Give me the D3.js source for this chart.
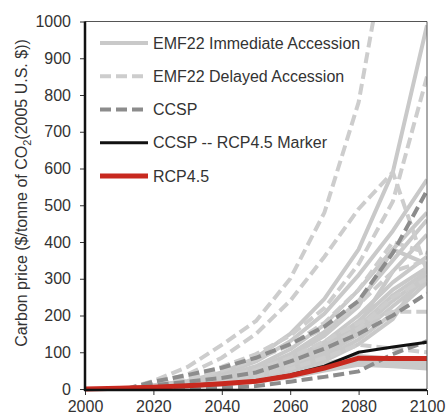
<!DOCTYPE html>
<html>
<head>
<meta charset="utf-8">
<script src="https://cdn.jsdelivr.net/npm/d3@7"></script>
<style>
  html, body { margin: 0; padding: 0; background: #fff; }
  svg { display: block; font-family: "Liberation Sans", Arial, Helvetica, sans-serif; }
</style>
</head>
<body>
<svg id="chart" width="446" height="414"></svg>
<script>
// ---------------- DATA ----------------
const emfYears = [2012, 2020, 2030, 2040, 2050, 2060, 2070, 2080, 2090, 2100];
const fullYears = [2000, 2010, 2020, 2030, 2040, 2050, 2060, 2070, 2080, 2090, 2100];

// EMF22 Immediate Accession (solid light grey)
const emfImmediate = [
  [0, 10, 22, 45, 85, 150, 245, 380, 590, 990],
  [0, 9, 20, 40, 75, 130, 205, 310, 430, 570],
  [0, 8, 18, 35, 62, 108, 175, 270, 380, 480],
  [0, 7, 16, 31, 55, 95, 155, 240, 350, 460],
  [0, 7, 15, 29, 52, 88, 145, 225, 380, 340],
  [0, 6, 14, 27, 47, 80, 128, 200, 290, 360],
  [0, 6, 13, 25, 43, 72, 118, 185, 270, 330],
  [0, 5, 12, 23, 40, 66, 108, 170, 255, 320],
  [0, 5, 11, 21, 36, 60, 100, 160, 240, 310],
  [0, 5, 11, 20, 34, 56, 92, 148, 225, 300],
  [0, 4, 10, 18, 31, 51, 84, 135, 205, 290],
  [0, 4, 9, 17, 28, 47, 76, 122, 190, 330],
  [0, 5, 12, 22, 38, 63, 105, 175, 320, 420],
  [0, 4, 9, 17, 28, 45, 68, 90, 82, 75],
  [0, 3, 8, 15, 25, 40, 60, 80, 75, 70],
  [0, 3, 7, 13, 22, 36, 55, 72, 68, 62],
  [0, 3, 6, 12, 20, 32, 50, 66, 62, 56]
];

// EMF22 Delayed Accession (dashed light grey)
const emfDelayed = [
  [0, 22, 60, 120, 185, 300, 480, 780, 1300, 1300],
  [0, 15, 40, 85, 150, 240, 360, 490, 590, 320],
  [0, 12, 30, 60, 95, 145, 220, 340, 510, 850],
  [0, 8, 18, 32, 52, 85, 130, 180, 210, 210],
  [0, 10, 25, 50, 80, 120, 180, 270, 400, 370],
  [0, 5, 12, 22, 35, 55, 85, 120, 110, 100],
  [0, 12, 28, 55, 85, 120, 165, 230, 320, 350],
  [0, 6, 14, 26, 42, 68, 108, 165, 250, 300]
];

// CCSP (dashed darker grey)
const ccsp = [
  [0, 20, 38, 58, 85, 122, 170, 240, 370, 540],
  [0, 10, 20, 30, 45, 75, 110, 150, 200, 260],
  [0, 1, 2, 3, 8, 20, 33, 48, 95, 130]
];

// CCSP -- RCP4.5 Marker (black)
const ccspMarker = [0, 2, 5, 10, 15, 22, 38, 62, 100, 114, 127];
// RCP4.5 (red)
const rcp45 = [0, 2, 5, 9, 14, 21, 36, 57, 84, 83, 83];

const xTicks = [2000, 2020, 2040, 2060, 2080, 2100];
const yTicks = [0, 100, 200, 300, 400, 500, 600, 700, 800, 900, 1000];
const legendLabels = ["EMF22 Immediate Accession", "EMF22 Delayed Accession", "CCSP", "CCSP -- RCP4.5 Marker", "RCP4.5"];

// ---------------- CHART ----------------
const svg = d3.select("#chart");
const pLeft = 85, pRight = 427, pTop = 21.5, pBottom = 389;

const x = d3.scaleLinear().domain([2000, 2100]).range([pLeft, pRight]);
const y = d3.scaleLinear().domain([0, 1000]).range([pBottom, pTop]);

const lightGrey = "#c9c9c9";
const darkGrey = "#8c8c8c";
const redCol = "#c8291f";
const textCol = "#333";

svg.append("clipPath").attr("id", "plotclip")
  .append("rect").attr("x", pLeft).attr("y", pTop).attr("width", pRight - pLeft).attr("height", pBottom - pTop + 3);

const plot = svg.append("g").attr("clip-path", "url(#plotclip)");

const lineFor = (years) => d3.line()
  .x((d, i) => x(years[i]))
  .y(d => y(d));

// top and right border
svg.append("line").attr("x1", pLeft).attr("x2", pRight).attr("y1", pTop).attr("y2", pTop)
  .attr("stroke", "#555").attr("stroke-width", 1);
svg.append("line").attr("x1", pRight).attr("x2", pRight).attr("y1", pTop).attr("y2", pBottom)
  .attr("stroke", "#555").attr("stroke-width", 1);

plot.selectAll(".imm").data(emfImmediate).join("path")
  .attr("class", "imm")
  .attr("d", lineFor(emfYears))
  .attr("fill", "none").attr("stroke", lightGrey).attr("stroke-width", 4)
  .attr("stroke-linejoin", "round");

plot.selectAll(".del").data(emfDelayed).join("path")
  .attr("class", "del")
  .attr("d", lineFor(emfYears))
  .attr("fill", "none").attr("stroke", "#cdcdcd").attr("stroke-width", 4)
  .attr("stroke-dasharray", "11,5");

plot.selectAll(".ccsp").data(ccsp).join("path")
  .attr("class", "ccsp")
  .attr("d", lineFor(emfYears))
  .attr("fill", "none").attr("stroke", darkGrey).attr("stroke-width", 4)
  .attr("stroke-dasharray", "11,5");

plot.append("path").datum(ccspMarker)
  .attr("d", lineFor(fullYears))
  .attr("fill", "none").attr("stroke", "#111").attr("stroke-width", 3);

plot.append("path").datum(rcp45)
  .attr("d", lineFor(fullYears))
  .attr("fill", "none").attr("stroke", redCol).attr("stroke-width", 5);

// axes
const yAxis = svg.append("g").attr("transform", `translate(${pLeft},0)`)
  .call(d3.axisLeft(y).tickValues(yTicks).tickFormat(d3.format("d")).tickSize(5).tickPadding(9));
yAxis.select(".domain").remove();
yAxis.selectAll(".tick line").attr("stroke", "#333").attr("stroke-width", 1);
yAxis.selectAll("text").attr("font-size", 16).attr("fill", textCol)
  .attr("font-family", '"Liberation Sans", Arial, sans-serif');

const xAxis = svg.append("g").attr("transform", `translate(0,${pBottom + 1})`)
  .call(d3.axisBottom(x).tickValues(xTicks).tickFormat(d3.format("d")).tickSize(5).tickPadding(6));
xAxis.select(".domain").remove();
xAxis.selectAll(".tick line").attr("stroke", "#333").attr("stroke-width", 1);
xAxis.selectAll("text").attr("font-size", 16).attr("fill", textCol)
  .attr("font-family", '"Liberation Sans", Arial, sans-serif');

// heavy left and bottom axis lines
svg.append("line").attr("x1", pLeft).attr("x2", pLeft).attr("y1", pTop).attr("y2", pBottom + 2)
  .attr("stroke", "#111").attr("stroke-width", 2.5);
svg.append("line").attr("x1", pLeft - 1).attr("x2", pRight).attr("y1", pBottom + 1).attr("y2", pBottom + 1)
  .attr("stroke", "#111").attr("stroke-width", 2.5);

// y axis title
const yt = svg.append("text")
  .attr("transform", `translate(27,193) rotate(-90)`)
  .attr("text-anchor", "middle")
  .attr("font-size", 16).attr("fill", textCol);
yt.append("tspan").text("Carbon price ($/tonne of CO");
yt.append("tspan").attr("font-size", 11).attr("dy", 4).text("2");
yt.append("tspan").attr("dy", -4).text("(2005 U.S. $))");

// legend
const legStyles = [
  { color: lightGrey, dash: null, width: 4 },
  { color: "#cdcdcd", dash: "11,5", width: 4 },
  { color: darkGrey, dash: "11,5", width: 4 },
  { color: "#111", dash: null, width: 3 },
  { color: redCol, dash: null, width: 5 }
];
const legY = d3.scalePoint().domain(legendLabels).range([43, 176]);
const leg = svg.append("g");
legendLabels.forEach((lab, i) => {
  const s = legStyles[i];
  leg.append("line").attr("x1", 100).attr("x2", 148)
    .attr("y1", legY(lab)).attr("y2", legY(lab))
    .attr("stroke", s.color).attr("stroke-width", s.width)
    .attr("stroke-dasharray", s.dash);
  leg.append("text").attr("x", 153).attr("y", legY(lab)).attr("dy", "0.35em")
    .attr("font-size", 16).attr("fill", textCol).text(lab);
});
</script>
</body>
</html>
